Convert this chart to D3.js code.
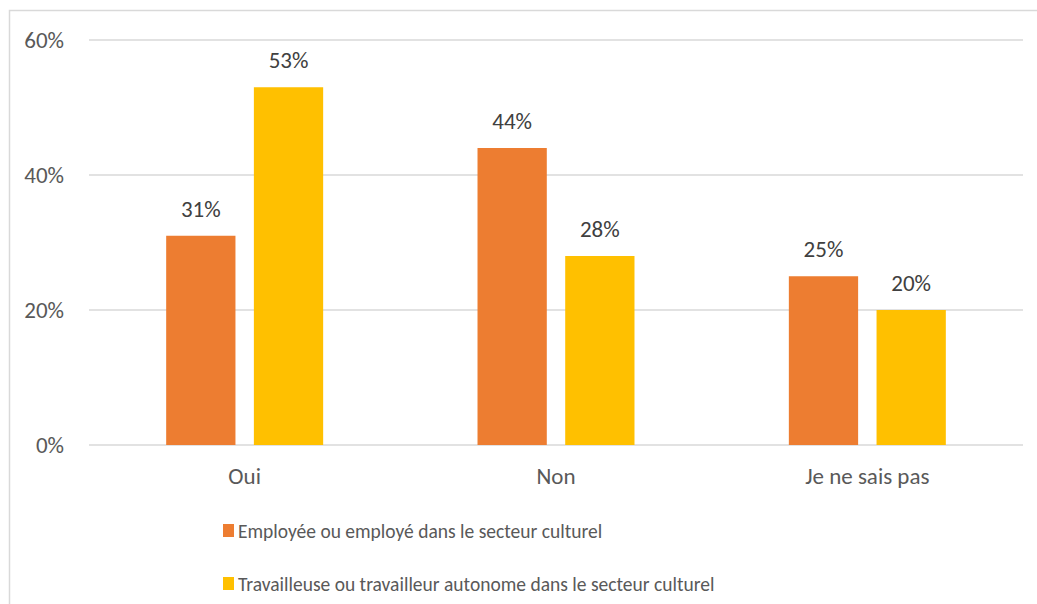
<!DOCTYPE html>
<html><head><meta charset="utf-8">
<script src="https://cdn.jsdelivr.net/npm/d3@7"></script>
<style>body{margin:0;background:#fff}svg{display:block}</style>
</head><body>
<svg id="chart" width="1037" height="604"></svg>
<script>
const categories = ["Oui", "Non", "Je ne sais pas"];
const seriesNames = ["Employée ou employé dans le secteur culturel", "Travailleuse ou travailleur autonome dans le secteur culturel"];
const employe = [31, 44, 25];
const autonome = [53, 28, 20];
const yTicks = [0, 20, 40, 60];
const colors = ["#ED7D31", "#FFC000"];

const svg = d3.select("#chart");
const font = "Calibri, Carlito, Lato, sans-serif";
svg.append("rect").attr("x", 9.5).attr("y", 10.5).attr("width", 1040).attr("height", 600)
  .attr("fill", "none").attr("stroke", "#d9d9d9").attr("stroke-width", 1.5);

const x0 = d3.scaleBand().domain(categories).range([89, 1023]).padding(0);
const inner = d3.scaleBand().domain([0, 1]).range([0, x0.bandwidth()]).paddingInner(0.21).paddingOuter(0.88);
const y = d3.scaleLinear().domain([0, 60]).range([445, 40]);

svg.append("g").selectAll("line").data(yTicks).join("line")
  .attr("x1", 89).attr("x2", 1023).attr("y1", d => y(d)).attr("y2", d => y(d))
  .attr("stroke", "#d9d9d9").attr("stroke-width", 1.5);

svg.append("g").selectAll("text").data(yTicks).join("text")
  .attr("x", 64).attr("y", d => y(d)).attr("dy", "0.34em").attr("text-anchor", "end")
  .attr("font-family", font).attr("font-size", 23).attr("fill", "#595959").text(d => d + "%");

const data = [];
categories.forEach((c, i) => { data.push({c, s: 0, v: employe[i]}); data.push({c, s: 1, v: autonome[i]}); });

svg.append("g").selectAll("rect").data(data).join("rect")
  .attr("x", d => x0(d.c) + inner(d.s)).attr("width", inner.bandwidth())
  .attr("y", d => y(d.v)).attr("height", d => y(0) - y(d.v)).attr("fill", d => colors[d.s]);

svg.append("g").selectAll("text").data(data).join("text")
  .attr("x", d => x0(d.c) + inner(d.s) + inner.bandwidth() / 2).attr("y", d => y(d.v) - 19)
  .attr("text-anchor", "middle").attr("font-family", font).attr("font-size", 23).attr("fill", "#404040")
  .text(d => d.v + "%");

svg.append("g").selectAll("text").data(categories).join("text")
  .attr("x", d => x0(d) + x0.bandwidth() / 2).attr("y", 484).attr("text-anchor", "middle")
  .attr("font-family", font).attr("font-size", 23).attr("fill", "#595959").text(d => d);

const leg = svg.append("g").selectAll("g").data(seriesNames).join("g")
  .attr("transform", (d, i) => `translate(223, ${524 + i * 53})`);
leg.append("rect").attr("width", 11).attr("height", 13).attr("fill", (d, i) => colors[i]);
leg.append("text").attr("x", 15).attr("y", 13.5).attr("font-family", font).attr("font-size", 19.5)
  .attr("fill", "#595959").text(d => d);
</script>
</body></html>
